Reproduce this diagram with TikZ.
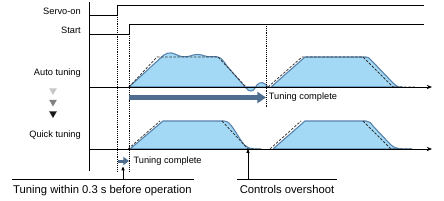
\documentclass[tikz,border=0pt]{standalone}
\usepackage{fontspec}
\setmainfont{Liberation Sans}
\usepackage{xcolor}
\usepackage{tikz}
\usetikzlibrary{arrows.meta,positioning,shapes.geometric}
\definecolor{tunfill}{HTML}{A3D9F5}
\definecolor{tunedge}{HTML}{5580AC}
\definecolor{tunbar}{HTML}{4F6D8E}
\definecolor{refgray}{HTML}{333333}

\begin{document}
\begin{tikzpicture}[x=0.3mm,y=-0.3mm,
  sig/.style={line width=0.8pt},
  lbl/.style={font=\fontsize{7.9}{9}\selectfont,inner sep=0pt,anchor=east},
  note/.style={font=\fontsize{9.6}{11}\selectfont,inner sep=0pt},
  dotline/.style={densely dotted,line width=0.6pt},
  resp/.style={fill=tunfill,draw=tunedge,line width=0.9pt,line join=round},
  ref/.style={dash pattern=on 2.2pt off 1.3pt,draw=refgray,line width=0.65pt},
  tri/.style={regular polygon,regular polygon sides=3,shape border rotate=180,fill=#1,inner sep=0pt,minimum size=2.7mm},
  >={Stealth[length=1.6mm,width=1.3mm]}]
  \useasboundingbox (0,0) rectangle (444,200);
  % signal names
  \node[lbl] (servo) at (81,11) {Servo-on};
  \node[lbl] (start) at (81,30) {Start};
  \node[lbl] (auto) at (81,73) {Auto tuning};
  \node[lbl] (quick) at (81,135) {Quick tuning};
  \node[tri=black!22] (tri1) at (53,90.5) {};
  \node[tri=black!50] (tri2) at (53,102) {};
  \node[tri=black!90] (tri3) at (53,113.5) {};
  % responses
  \path[resp] (129,87) -- (160,58.5) .. controls (165,53) and (170,51.5) .. (175,54)
    .. controls (180,57) and (185,57.5) .. (190,56) .. controls (195,54) and (200,54) .. (205,56)
    .. controls (209,57.5) and (214,56) .. (218,57) .. controls (222,58) and (224,62) .. (227,66)
    -- (246,88) .. controls (249,92) and (253,92) .. (255,88) .. controls (257,83) and (262,81) .. (265,84)
    .. controls (267,86) and (268,87) .. (270,87) -- cycle;
  \path[resp] (271,87) -- (305,57) -- (366,57) .. controls (368,57) and (369,58) .. (371,60)
    -- (394,84) .. controls (396,86.5) and (398,87) .. (402,87) -- cycle;
  \path[resp] (130,149) -- (163,121) -- (224,121) .. controls (228,121) and (230,124) .. (233,128)
    -- (242,142) .. controls (246,148) and (250,149) .. (260,149) -- cycle;
  \path[resp] (273,149) -- (305,121) -- (366,121) .. controls (369,121) and (371,123) .. (373,126)
    -- (390,144) .. controls (394,148.5) and (398,149) .. (412,149) -- cycle;
  \draw[ref] (129,87) -- (157,57) -- (218,57) -- (246,87);
  \draw[ref] (268,87) -- (302,57) -- (363,57) -- (393,87) -- (415,87);
  \draw[ref] (128,149) -- (160,121) (222,121) -- (248,149) -- (262,149);
  \draw[ref] (270,149) -- (301,121) (363,121) -- (391,149) -- (412,149);
  % axes and inputs
  \draw[sig] (89.5,2) -- (89.5,171);
  \draw[sig,->] (89.5,87) -- (432,87);
  \draw[sig,->] (89.5,149) -- (432,149);
  \draw[sig] (89.5,15) -- (117,15) -- (117,5) -- (424,5);
  \draw[sig] (89.5,34) -- (129,34) -- (129,24) -- (424,24);
  \draw[dotline] (117,15) -- (117,171);
  \draw[dotline] (129,34) -- (129,171);
  \draw[dotline] (266,24) -- (266,108);
  % tuning complete
  \coordinate (acS) at (129,97.5);
  \coordinate (acE) at (266,97.5);
  \draw[tunbar,line width=1.5mm,-{Triangle[length=2.6mm,width=3.3mm]}] (acS) -- (acE);
  \node[lbl,right=0.8mm of acE] (acdone) {Tuning complete};
  \coordinate (qcS) at (118,161);
  \coordinate (qcE) at (129,161);
  \draw[tunbar,line width=0.9mm,-{Triangle[length=1.7mm,width=2.4mm]}] (qcS) -- (qcE);
  \node[lbl,right=1.3mm of qcE] (qcdone) {Tuning complete};
  % notes
  \coordinate (withinL) at (12,179);
  \coordinate (withinR) at (194,179);
  \coordinate (withinT) at (123,179);
  \coordinate (withinP) at (123,166);
  \draw[sig] (withinL) -- (withinR);
  \draw[sig,-{Latex[length=1.3mm,width=1.1mm]}] (withinT) -- (withinP);
  \node[note,anchor=base west] (within) at (13,193) {Tuning within 0.3 s before operation};
  \coordinate (overL) at (237,179);
  \coordinate (overR) at (337,179);
  \coordinate (overT) at (248,179);
  \coordinate (overP) at (248,148.5);
  \draw[sig] (overL) -- (overR);
  \draw[sig,-{Latex[length=1.3mm,width=1.1mm]}] (overT) -- (overP);
  \node[note,anchor=base] (overshoot) at (287,193) {Controls overshoot};
\end{tikzpicture}
\end{document}
